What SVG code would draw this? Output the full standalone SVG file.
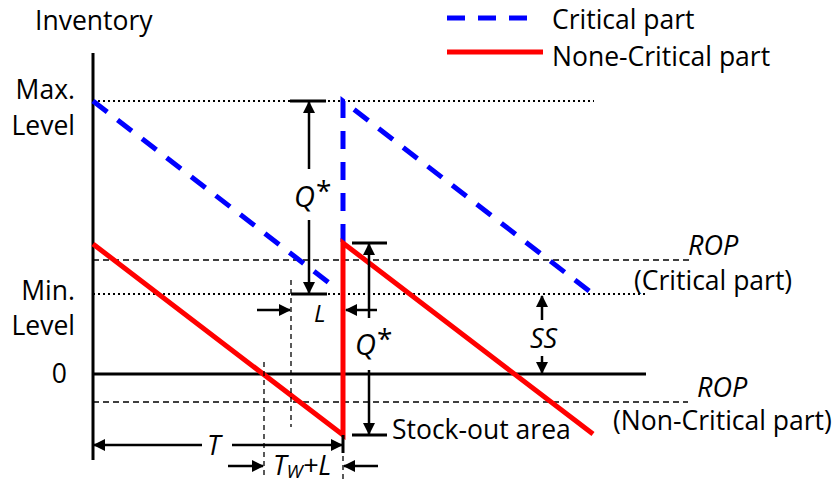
<svg xmlns="http://www.w3.org/2000/svg" width="836" height="483" viewBox="0 0 836 483">
<style>
text{font-family:"Open Sans","Liberation Sans",sans-serif;fill:#000;}
.lbl{font-size:26.5px;}
.it{font-style:italic;font-size:27px;}
.axis{stroke:#000;stroke-width:3;fill:none;}
.dot{stroke:#000;stroke-width:2;stroke-dasharray:2 3;fill:none;}
.dash{stroke:#000;stroke-width:1.3;stroke-dasharray:6 4;fill:none;}
.vd{stroke:#000;stroke-width:1.3;stroke-dasharray:5 4;fill:none;}
.crit{stroke:#0000ff;stroke-width:5;stroke-dasharray:18 13;fill:none;}
.ncrit{stroke:#ff0000;stroke-width:5;fill:none;}
.arr{stroke:#000;stroke-width:2.5;fill:none;marker-end:url(#ah);}
.tick{stroke:#000;stroke-width:3;fill:none;}
</style>
<defs>
<marker id="ah" viewBox="0 0 12 12" refX="11" refY="6" markerWidth="12" markerHeight="12" markerUnits="userSpaceOnUse" orient="auto"><path d="M0,0 L12,6 L0,12 z" fill="#000"/></marker>
</defs>

<g id="axes">
<line class="axis" x1="93" y1="53" x2="93" y2="460"/>
<line class="axis" x1="93" y1="374" x2="646" y2="374"/>
<text class="lbl" x="35" y="30">Inventory</text>
<text class="lbl" x="75" y="99" text-anchor="end">Max.</text>
<text class="lbl" x="75" y="135" text-anchor="end">Level</text>
<text class="lbl" x="75" y="300" text-anchor="end">Min.</text>
<text class="lbl" x="75" y="335" text-anchor="end">Level</text>
<text class="lbl" x="67" y="383" text-anchor="end">0</text>
</g>

<g id="legend">
<line class="crit" x1="447" y1="18" x2="528" y2="18"/>
<text class="lbl" x="552" y="29">Critical part</text>
<line class="ncrit" x1="447" y1="52" x2="543" y2="52"/>
<text class="lbl" x="552" y="66">None-Critical part</text>
</g>

<g id="levels">
<line class="dot" x1="93" y1="101" x2="594" y2="101"/>
<line class="dot" x1="93" y1="294" x2="645" y2="294"/>
<line class="dash" x1="93" y1="260" x2="692" y2="260"/>
<line class="dash" x1="93" y1="402" x2="688" y2="402"/>
<text class="it" x="688" y="255">ROP</text>
<text class="lbl" x="634" y="290">(Critical part)</text>
<text class="it" x="697" y="397">ROP</text>
<text class="lbl" x="613" y="430">(Non-Critical part)</text>
</g>

<g id="critical-part">
<path class="crit" d="M93,101 L333,286"/>
<path class="crit" d="M343,242 L343,101 L593,294"/>
</g>

<g id="non-critical-part">
<path class="ncrit" d="M93,244 L343,435 L343,243 L593,434"/>
</g>

<g id="connectors">
<line class="tick" x1="290" y1="101" x2="326" y2="101"/>
<line class="tick" x1="291" y1="294" x2="327" y2="294"/>
<line class="arr" x1="309" y1="169" x2="309" y2="102"/>
<line class="arr" x1="309" y1="220" x2="309" y2="293"/>
<line class="tick" x1="352" y1="243" x2="387" y2="243"/>
<line class="tick" x1="352" y1="435" x2="387" y2="435"/>
<line class="arr" x1="369" y1="318" x2="369" y2="244"/>
<line class="arr" x1="369" y1="370" x2="369" y2="434"/>
<line class="vd" x1="291" y1="280" x2="291" y2="427"/>
<line class="arr" x1="257" y1="310" x2="290" y2="310"/>
<line class="arr" x1="377" y1="310" x2="346" y2="310"/>
<line class="arr" x1="542" y1="320" x2="542" y2="296"/>
<line class="arr" x1="542" y1="356" x2="542" y2="373"/>
<line class="vd" x1="264" y1="362" x2="264" y2="478"/>
<line class="tick" x1="343" y1="435" x2="343" y2="453"/>
<line class="vd" x1="343" y1="456" x2="343" y2="483"/>
<line class="arr" x1="202" y1="445" x2="94" y2="445"/>
<line class="arr" x1="232" y1="445" x2="342" y2="445"/>
<line class="arr" x1="228" y1="466" x2="263" y2="466"/>
<line class="arr" x1="378" y1="466" x2="344" y2="466"/>
</g>

<g id="labels">
<text class="it" x="294" y="207" style="font-size:29px">Q</text>
<text class="lbl" x="316" y="201" style="font-size:28px">*</text>
<text class="it" x="355" y="355" style="font-size:29px">Q</text>
<text class="lbl" x="377" y="349" style="font-size:28px">*</text>
<text class="it" x="314" y="322" style="font-size:24px">L</text>
<text class="it" x="530" y="348">SS</text>
<text class="it" x="207" y="455">T</text>
<text class="it" x="273" y="475">T<tspan style="font-size:19px" dy="3">W</tspan><tspan dy="-3">+L</tspan></text>
<text class="lbl" x="392" y="439">Stock-out area</text>
</g>
</svg>
